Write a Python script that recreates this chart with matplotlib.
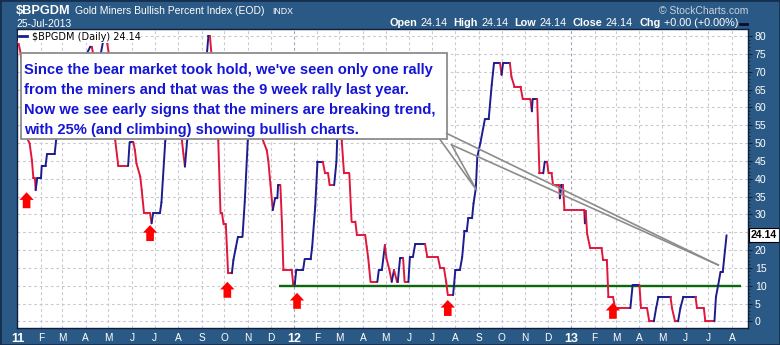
import numpy as np
import matplotlib
matplotlib.use("Agg")
from matplotlib import pyplot as plt
from matplotlib.collections import LineCollection
from matplotlib.patches import Rectangle
from matplotlib.lines import Line2D

plt.rcParams['font.family'] = ['Liberation Sans', 'DejaVu Sans']

# DATA (days counted from 1-Jan-2011, values in percent)
start = np.datetime64("2011-01-01")
day = [1, 4, 7, 10, 14, 16, 19, 21, 23, 24,
       26, 31, 32, 37, 39, 49, 51, 53, 57, 62,
       69, 76, 82, 89, 96, 98, 102, 106, 109, 113,
       118, 122, 125, 127, 129, 133, 146, 148, 153, 155,
       157, 162, 164, 167, 175, 177, 179, 188, 190, 195,
       199, 204, 209, 214, 217, 219, 221, 224, 228, 234,
       241, 246, 250, 252, 254, 256, 259, 263, 265, 268,
       270, 272, 275, 278, 283, 285, 288, 291, 297, 300,
       304, 307, 311, 315, 319, 322, 324, 329, 331, 334,
       337, 340, 343, 344, 347, 349, 351, 362, 364, 366,
       368, 377, 379, 387, 389, 393, 396, 403, 406, 410,
       412, 418, 421, 422, 424, 426, 428, 431, 438, 441,
       446, 448, 459, 461, 463, 466, 475, 477, 481, 485,
       487, 491, 494, 497, 501, 502, 505, 509, 511, 516,
       518, 522, 525, 538, 541, 555, 558, 563, 566, 568,
       575, 578, 584, 587, 590, 593, 595, 600, 602, 605,
       607, 611, 617, 622, 626, 629, 637, 639, 641, 650,
       652, 656, 664, 667, 677, 679, 680, 686, 689, 694,
       696, 699, 701, 705, 707, 715, 716, 718, 720, 722,
       748, 749, 750, 752, 756, 771, 773, 778, 780, 786,
       789, 809, 812, 821, 823, 831, 834, 840, 843, 846,
       862, 864, 868, 872, 875, 879, 895, 897, 906, 908,
       920, 922, 925, 928, 931, 936]
bpi = [78.4, 75.3, 68, 60, 50.8, 49.9, 45.2, 40.1, 40.1, 36.8,
       40.1, 40.1, 43.6, 43.6, 46.9, 46.9, 50.8, 56, 60, 63,
       66, 70, 72, 74, 77, 77, 73, 72, 74, 78.5,
       78.5, 73, 64, 56, 50.8, 43.6, 43.6, 50.2, 50.2, 48,
       44.3, 40.6, 36.8, 30.3, 30.3, 27.5, 30.3, 30.3, 33.3, 50.4,
       57, 62, 61, 57, 50.8, 47, 43.4, 50.8, 60, 66,
       70, 73, 75, 80, 80, 75, 66, 57, 50.8, 30.3,
       30.3, 27.2, 27.2, 13.5, 13.5, 17.2, 20.5, 23.7, 23.7, 33.6,
       50.8, 57, 62, 64, 62, 56, 50.8, 48, 45.2, 38.2,
       31.2, 34.5, 34.5, 38.2, 38.2, 28, 14.4, 14.4, 10.4, 10.4,
       14.4, 14.4, 17.4, 17.4, 20.9, 32.2, 44.8, 44.8, 41.5, 41.5,
       38.2, 38.2, 44.8, 50.8, 53, 52, 50.8, 41.5, 41.5, 28,
       28, 24.2, 24.2, 20.9, 17.7, 11.1, 11.1, 14.4, 14.4, 21.4,
       17.7, 14.4, 11.1, 14.4, 11.1, 11.1, 17.7, 17.7, 11.1, 11.1,
       18.1, 18.1, 21.7, 21.7, 18, 18, 14.9, 14.9, 10.9, 7.4,
       7.4, 14.4, 14.4, 18, 25.2, 25.2, 28.9, 28.9, 33.1, 37.3,
       46.2, 50, 56.7, 56.7, 66.3, 72.4, 72.4, 69.1, 72.4, 72.4,
       68.6, 65.8, 65.8, 62.3, 62.3, 58.9, 62.3, 62.3, 41.5, 41.5,
       44.8, 44.8, 41.5, 41.5, 38.2, 38.2, 34.5, 38.2, 38.2, 31.2,
       31.2, 27.5, 31, 24.5, 20.5, 20.5, 17.2, 17.2, 6.9, 6.9,
       3.7, 3.7, 10.2, 10.2, 3.7, 3.7, 0, 0, 3.7, 6.9,
       6.9, 3.7, 0, 0, 3.7, 6.9, 6.9, 3.7, 3.7, 0,
       0, 6.9, 10.2, 13.9, 13.9, 24.14]
last_value = 24.14

# red "buy" arrows (day, tip level)
signal_day = [12, 175, 277, 369, 568, 786]
signal_tip = [36.2, 27.0, 11.1, 8.0, 6.0, 5.2]

# support line drawn by the author
support_level = 10
support_days = [345, 955]

# callout box and its pointer (day, level)
box_days = [4.6, 566.5]
box_levels = [51.05, 75.2]
pointer_a = ([566.5, 925], [52.7, 15.8])
pointer_b = ([573, 925], [49.5, 15.8])
pointer_v = ([557.7, 606, 573], [51.0, 36.8, 49.5])
note_lines = ["Since the bear market took hold, we've seen only one rally",
              "from the miners and that was the 9 week rally last year.",
              "Now we see early signs that the miners are breaking trend,",
              "with 25% (and climbing) showing bullish charts."]
note_levels = [69.36, 63.75, 58.14, 52.54]

assert len(day) == len(bpi)

bg = '#2b5985'
up_col = '#1c1c8f'
down_col = '#e0173d'
navy = '#0d1f3c'

fig = plt.figure(figsize=(7.8, 3.45), dpi=100, facecolor=bg)
ax = fig.add_axes([17 / 780, 1 - 327.7 / 345, 731 / 780, 298.4 / 345])
ax.set_facecolor('white')

# price line, blue on up moves and red on down moves
x = np.array(day, dtype=float)
y = np.array(bpi, dtype=float)
segs = []
cols = []
last = down_col
for i in range(len(x) - 1):
    dv = y[i + 1] - y[i]
    if dv > 0:
        last = up_col
    elif dv < 0:
        last = down_col
    segs.append([(x[i], y[i]), (x[i + 1], y[i + 1])])
    cols.append(last)
lc = LineCollection(segs, colors=cols, linewidths=1.4, capstyle='round',
                    joinstyle='round', zorder=4)
ax.add_collection(lc)

ax.hlines(support_level, support_days[0], support_days[1], color='#0b680b',
          lw=1.7, zorder=3)

for d, t in zip(signal_day, signal_tip):
    ax.annotate('', xy=(d, t), xytext=(0, -11.5), textcoords='offset points',
                arrowprops=dict(width=5.5, headwidth=10.3, headlength=5.5,
                                facecolor='#ff0000', edgecolor='#ff0000', lw=0),
                zorder=5)

# callout
ax.add_patch(Rectangle((box_days[0], box_levels[0]), box_days[1] - box_days[0],
                       box_levels[1] - box_levels[0], fc='white', ec='#8c8c8c',
                       lw=1.3, zorder=6))
for px, py in (pointer_a, pointer_b, pointer_v):
    ax.plot(px, py, color='#8c8c8c', lw=1.2, zorder=6)
for s, lv in zip(note_lines, note_levels):
    ax.text(9.0, lv, s, color='#1515d5', fontsize=10.6, fontweight='bold',
            va='baseline', ha='left', zorder=7)

# axes
ax.set_xlim(-0.66, 964.3)
ax.set_ylim(-1.77, 81.88)
months = np.arange(np.datetime64('2011-01'), np.datetime64('2013-09'),
                   dtype='datetime64[M]')
tick_days = (months.astype('datetime64[D]') - start).astype(int)
labels = []
years = []
for m in months:
    mm = int(str(m)[5:7])
    if mm == 1:
        labels.append(str(m)[2:4])
        years.append(True)
    else:
        labels.append("JFMAMJJASOND"[mm - 1])
        years.append(False)
ax.set_xticks(tick_days)
ax.set_xticklabels(labels)
for lab, isy in zip(ax.get_xticklabels(), years):
    if isy:
        lab.set_fontweight('bold')
        lab.set_fontsize(9)
    else:
        lab.set_fontsize(7.3)
ax.tick_params(axis='x', length=0, pad=4, labelcolor='white')

ax.yaxis.tick_right()
yt = np.arange(0, 81, 5)
ax.set_yticks(yt)
# the "25" label sits under the last-value tag, as in the original
ax.set_yticklabels(['' if v == 25 else str(v) for v in yt])
ax.set_yticks(np.arange(0, 81, 1), minor=True)
ax.tick_params(axis='y', which='major', length=3, width=0.8, color=navy,
               pad=2, labelcolor='white', labelsize=7.6)
ax.tick_params(axis='y', which='minor', length=1.5, width=0.6, color=navy)

ax.grid(True, which='major', color='#c9c9d3', lw=0.8, linestyle=(0, (2.5, 2.5)))
ax.set_axisbelow(True)
for gl, isy in zip(ax.get_xgridlines(), years):
    if isy:
        gl.set_color('#9ea3b3')
for sp in ax.spines.values():
    sp.set_color(navy)
    sp.set_linewidth(1.0)

# legend
ax.legend(handles=[Line2D([], [], color=up_col, lw=2)],
          labels=['\\$BPGDM (Daily) 24.14'], loc='upper left',
          prop={'family': 'DejaVu Sans', 'size': 7}, frameon=True,
          facecolor='white', edgecolor='none', framealpha=1, fancybox=False,
          handlelength=0.75, handletextpad=0.5, borderpad=0.1,
          borderaxespad=0.15)

# last value tag
ax.annotate('%.2f' % last_value, xy=(1, last_value),
            xycoords=ax.get_yaxis_transform(), xytext=(2.2, 0),
            textcoords='offset points', ha='left', va='center', fontsize=7.6,
            fontweight='bold', color='black', annotation_clip=False,
            bbox=dict(boxstyle='square,pad=0.2', fc='white', ec='black', lw=0.8),
            zorder=10)

# header
def fx(p):
    return p / 780


def fy(p):
    return 1 - p / 345


fig.text(fx(16), fy(14.5), '\\$BPGDM', color='white', fontsize=9.2,
         fontweight='bold', va='baseline')
fig.text(fx(75), fy(14.5), 'Gold Miners Bullish Percent Index (EOD)',
         color='white', fontsize=7.5, va='baseline')
fig.text(fx(272), fy(14.5), 'INDX', color='white', fontsize=6.3, va='baseline')
fig.text(fx(16), fy(26.7), '25-Jul-2013', color='white', fontsize=7.5,
         va='baseline')
fig.text(fx(748), fy(14), '\u00a9 StockCharts.com', color='#c8d2dc',
         fontsize=7.5, ha='right', va='baseline')

renderer = fig.canvas.get_renderer()
parts = [('Open', True), ('24.14', False), ('High', True), ('24.14', False),
         ('Low', True), ('24.14', False), ('Close', True), ('24.14', False),
         ('Chg', True), ('+0.00 (+0.00%)', False)]
xp = 389.0
for s, b in parts:
    t = fig.text(fx(xp), fy(26.3), s, color='white', fontsize=7.8,
                 fontweight='bold' if b else 'normal', va='baseline')
    w = t.get_window_extent(renderer).width
    xp += w + (3.5 if b else 6.0)
fig.add_artist(Line2D([fx(740), fx(747)], [fy(23.5), fy(23.5)], color='#0a0a30',
                      lw=2))

fig.add_artist(Rectangle((0, 0), 1, 1, transform=fig.transFigure, fill=False,
                         ec='#15304f', lw=2))

fig.savefig('out.png', dpi=100, facecolor=bg)
